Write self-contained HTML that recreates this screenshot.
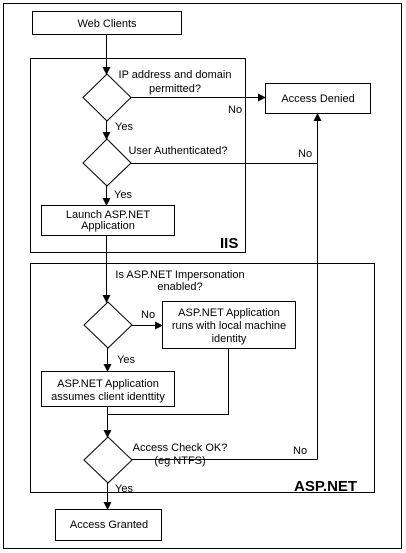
<!DOCTYPE html>
<html><head><style>
html,body{margin:0;padding:0;background:#fff;}
svg{display:block;}
text{font-family:"Liberation Sans",Arial,sans-serif;font-size:11px;fill:#000;}
.b{font-weight:bold;font-size:15px;}
</style></head><body>
<svg width="406" height="553" viewBox="0 0 406 553" xmlns="http://www.w3.org/2000/svg">
<defs><marker id="a" markerWidth="8" markerHeight="8" refX="7" refY="4" orient="auto" markerUnits="userSpaceOnUse"><path d="M0,0 L8,4 L0,8 z" fill="#000"/></marker></defs>
<g fill="none" stroke="#000" stroke-width="1">
<rect x="3.5" y="3.5" width="398" height="545"/>
<rect x="32.5" y="11.5" width="149" height="23"/>
<rect x="30.5" y="58.5" width="215" height="194"/>
<rect x="265.5" y="83.5" width="105" height="30"/>
<rect x="41.5" y="205.5" width="133" height="30"/>
<rect x="30.5" y="263.5" width="344" height="229"/>
<rect x="162.5" y="301.5" width="133" height="47"/>
<rect x="41.5" y="371.5" width="133" height="35"/>
<rect x="55.5" y="509.5" width="106" height="31"/>
<path d="M107,74 L131,97.5 L107,121 L83,97.5 z"/>
<path d="M107,139 L131,163 L107,186 L83,163 z"/>
<path d="M108,302 L132,325 L108,348 L84,325 z"/>
<path d="M108,437 L132,460 L108,483 L84,460 z"/>
<path d="M106.5,34 V74" marker-end="url(#a)"/>
<path d="M131,97.5 H265" marker-end="url(#a)"/>
<path d="M106.5,121 V139" marker-end="url(#a)"/>
<path d="M106.5,186 V205" marker-end="url(#a)"/>
<path d="M131,163.5 H317.5"/>
<path d="M317.5,459.5 V114" marker-end="url(#a)"/>
<path d="M106.5,235 V302" marker-end="url(#a)"/>
<path d="M132,325.5 H162" marker-end="url(#a)"/>
<path d="M107.5,348 V371" marker-end="url(#a)"/>
<path d="M228.5,349 V414.5 H107.5"/>
<path d="M107.5,406 V437" marker-end="url(#a)"/>
<path d="M132,459.5 H317.5"/>
<path d="M107.5,483 V509" marker-end="url(#a)"/>
</g>
<g text-anchor="middle">
<text x="107" y="27">Web Clients</text>
<text x="175" y="78">IP address and domain</text>
<text x="175" y="92">permitted?</text>
<text x="318" y="102">Access Denied</text>
<text x="178" y="154">User Authenticated?</text>
<text x="108" y="218">Launch ASP.NET</text>
<text x="108" y="229">Application</text>
<text x="180" y="278">Is ASP.NET Impersonation</text>
<text x="180" y="290">enabled?</text>
<text x="229" y="316">ASP.NET Application</text>
<text x="229" y="329">runs with local machine</text>
<text x="229" y="342">identity</text>
<text x="108" y="387">ASP.NET Application</text>
<text x="108" y="400">assumes client identtity</text>
<text x="180" y="451">Access Check OK?</text>
<text x="180" y="464">(eg NTFS)</text>
<text x="109" y="528">Access Granted</text>
</g>
<text x="228" y="113">No</text>
<text x="115" y="130">Yes</text>
<text x="298" y="157">No</text>
<text x="114" y="198">Yes</text>
<text x="141" y="318">No</text>
<text x="117" y="363">Yes</text>
<text x="293" y="454">No</text>
<text x="115" y="492">Yes</text>
<text class="b" x="220" y="248">IIS</text>
<text class="b" x="294" y="491">ASP.NET</text>
</svg>
</body></html>
